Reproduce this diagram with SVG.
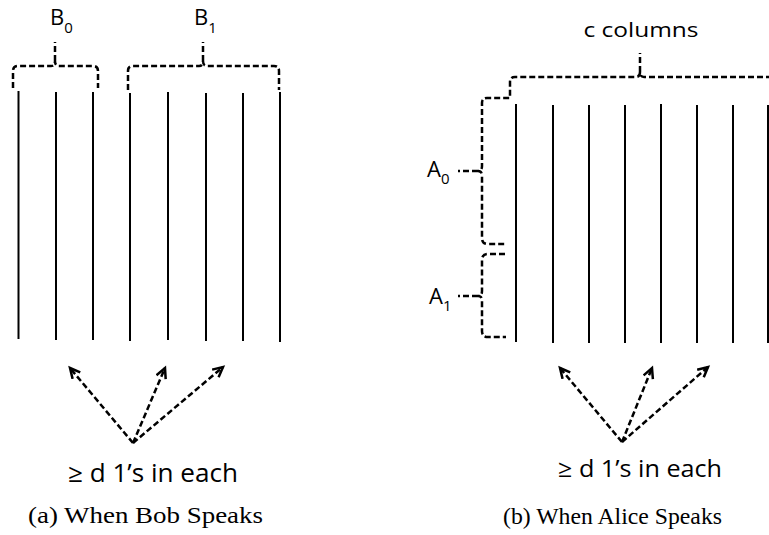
<svg xmlns="http://www.w3.org/2000/svg" width="769" height="535" viewBox="0 0 769 535">
<style>
.col{stroke:#000;stroke-width:2;fill:none}
.dash{stroke:#000;stroke-width:2.5;fill:none;stroke-dasharray:6 3}
.arr{stroke:#000;stroke-width:2.5;fill:none;stroke-dasharray:6 3}
.lbl{font-family:"Open Sans","Noto Sans",sans-serif;fill:#000}
.cap{font-family:"Liberation Serif","DejaVu Serif",serif;fill:#000}
</style>
<defs>
<marker id="ah" markerUnits="userSpaceOnUse" markerWidth="16" markerHeight="16" refX="11" refY="6" orient="auto">
<path d="M1,1 L11,6 L1,11" fill="none" stroke="#000" stroke-width="2.5" stroke-dasharray="none"/>
</marker>
</defs>
<rect width="769" height="535" fill="#fff"/>

<g id="left-columns">
<line class="col" x1="18.5" y1="91" x2="18.5" y2="339"/>
<line class="col" x1="56" y1="92" x2="56" y2="340"/>
<line class="col" x1="93" y1="92" x2="93" y2="340"/>
<line class="col" x1="130" y1="93" x2="130" y2="341"/>
<line class="col" x1="168" y1="92" x2="168" y2="340"/>
<line class="col" x1="206" y1="93" x2="206" y2="341"/>
<line class="col" x1="243" y1="93" x2="243" y2="341"/>
<line class="col" x1="280" y1="92" x2="280" y2="342"/>
</g>

<g id="brace-B0">
<path class="dash" d="M13 88 V71 Q13 66 18 66 H51 Q55 66 55 61 Q55 66 59 66 H93 Q98 66 98 71 V88"/>
<path class="dash" d="M55 61 V42"/>
<text class="lbl" x="50" y="25" font-size="22">B<tspan font-size="15" dy="8">0</tspan></text>
</g>

<g id="brace-B1">
<path class="dash" d="M128 90 V71 Q128 66 133 66 H199 Q203 66 203 61 Q203 66 207 66 H274 Q279 66 279 71 V90"/>
<path class="dash" d="M203 61 V42"/>
<text class="lbl" x="194" y="25" font-size="22">B<tspan font-size="15" dy="8">1</tspan></text>
</g>

<g id="label-left-d">
<text class="lbl" x="68" y="482" font-size="25" textLength="170" lengthAdjust="spacingAndGlyphs">≥ d 1’s in each</text>
</g>

<g id="caption-a">
<text class="cap" x="28" y="523" font-size="24" textLength="235" lengthAdjust="spacingAndGlyphs">(a) When Bob Speaks</text>
</g>

<g id="right-columns">
<line class="col" x1="516" y1="104" x2="516" y2="342"/>
<line class="col" x1="553" y1="105" x2="553" y2="343"/>
<line class="col" x1="589" y1="105" x2="589" y2="343"/>
<line class="col" x1="625" y1="105" x2="625" y2="343"/>
<line class="col" x1="661" y1="104" x2="661" y2="343"/>
<line class="col" x1="697" y1="105" x2="697" y2="343"/>
<line class="col" x1="733" y1="105" x2="733" y2="343"/>
<line class="col" x1="768" y1="105" x2="768" y2="343"/>
</g>

<g id="brace-c">
<path class="dash" d="M772 77 H644 Q640 77 640 72 Q640 77 636 77 H515 Q510 77 510 82 V98 H487 Q482 98 482 103 V166 Q482 171 478 171 Q482 171 482 176 V238 Q482 244 488 244 H506"/>
<path class="dash" d="M640 72 V53"/>
<text class="lbl" x="641" y="37" font-size="20" text-anchor="middle" textLength="115" lengthAdjust="spacingAndGlyphs">c columns</text>
</g>

<g id="brace-A0">
<path class="dash" d="M478 171 H458"/>
<text class="lbl" x="427" y="177" font-size="22">A<tspan font-size="15" dy="7">0</tspan></text>
</g>

<g id="brace-A1">
<path class="dash" d="M505 254 H488 Q482 254 482 260 V291 Q482 296 478 296 Q482 296 482 301 V331 Q482 337 488 337 H506"/>
<path class="dash" d="M478 296 H458"/>
<text class="lbl" x="429" y="304" font-size="22">A<tspan font-size="15" dy="7">1</tspan></text>
</g>

<g id="label-right-d">
<text class="lbl" x="558" y="477" font-size="24" textLength="164" lengthAdjust="spacingAndGlyphs">≥ d 1’s in each</text>
</g>

<g id="caption-b">
<text class="cap" x="503" y="524" font-size="23" textLength="219" lengthAdjust="spacingAndGlyphs">(b) When Alice Speaks</text>
</g>

<g id="connectors">
<line class="arr" x1="133" y1="443" x2="70" y2="368" marker-end="url(#ah)"/>
<line class="arr" x1="133" y1="443" x2="165" y2="368" marker-end="url(#ah)"/>
<line class="arr" x1="133" y1="443" x2="223" y2="367" marker-end="url(#ah)"/>
<line class="arr" x1="622" y1="442" x2="560" y2="368" marker-end="url(#ah)"/>
<line class="arr" x1="622" y1="442" x2="652" y2="368" marker-end="url(#ah)"/>
<line class="arr" x1="622" y1="442" x2="708" y2="367" marker-end="url(#ah)"/>
</g>
</svg>
